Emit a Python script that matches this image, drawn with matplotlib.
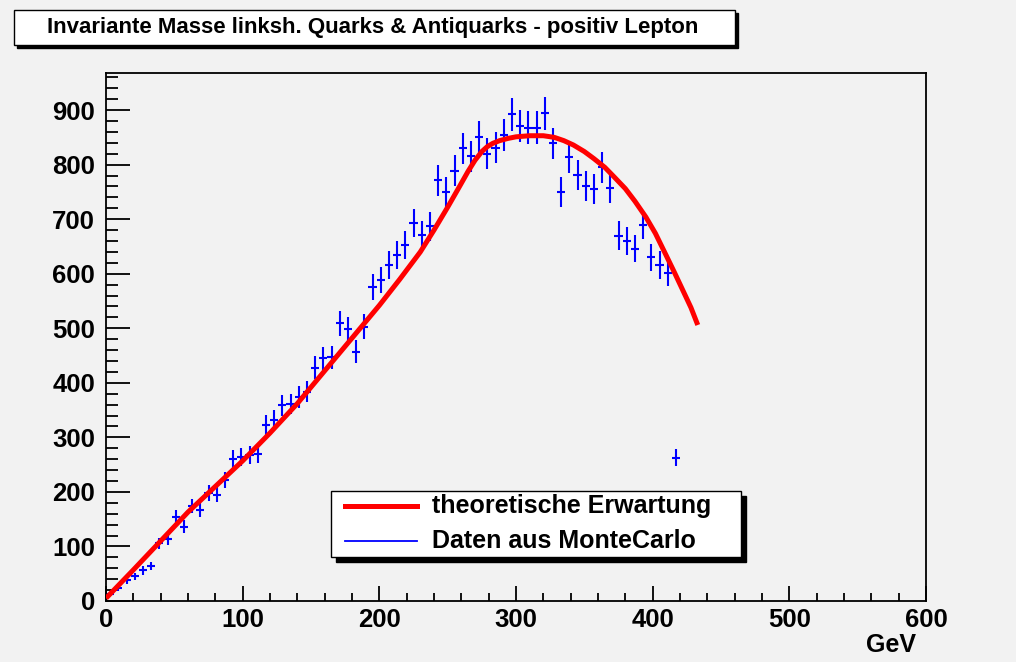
import numpy as np
import matplotlib
matplotlib.use("Agg")
import matplotlib.pyplot as plt
from matplotlib.patches import Rectangle
from matplotlib.lines import Line2D
from matplotlib.ticker import MultipleLocator

# Monte Carlo histogram, 6 GeV bins
bin_centers = np.arange(3, 420, 6)
counts = [12, 23, 38, 45, 56, 64, 106, 113, 154, 136,
          174, 166, 198, 195, 222, 260, 264, 268, 269, 323,
          332, 359, 361, 374, 384, 428, 445, 447, 509, 498,
          457, 503, 575, 588, 616, 634, 652, 693, 671, 687,
          771, 750, 789, 830, 815, 850, 820, 831, 855, 892,
          871, 868, 868, 894, 839, 750, 814, 781, 761, 756,
          795, 758, 670, 660, 646, 689, 630, 616, 602, 263]

# theoretical expectation
theo_x = [0, 20, 40, 60, 80, 100, 120, 140, 160, 180, 200, 215, 230, 240, 250,
          258, 265, 270, 275, 279, 283, 288, 294, 300, 310, 320, 328, 335, 342,
          350, 357, 365, 372, 380, 387, 395, 402, 410, 416, 422, 428, 433]
theo_y = [5, 57, 110, 163, 210, 257, 308, 362, 422, 482, 542, 590, 640, 680, 722,
          757, 788, 808, 824, 833, 839, 844, 848, 851, 853, 853, 850, 844, 836,
          824, 811, 795, 777, 756, 733, 704, 674, 633, 602, 570, 538, 506]

title = "Invariante Masse linksh. Quarks & Antiquarks - positiv Lepton"
legend_labels = ["theoretische Erwartung", "Daten aus MonteCarlo"]

plt.rcParams['font.family'] = ['Liberation Sans', 'DejaVu Sans']
plt.rcParams['font.weight'] = 'bold'

W, H = 1016, 662
bg = '#f2f2f2'
fig = plt.figure(figsize=(W / 100, H / 100), dpi=100, facecolor=bg)


def fx(px):
    return px / W


def fy(py):
    return 1 - py / H


ax = fig.add_axes([fx(106), fy(601), fx(926) - fx(106), fy(73) - fy(601)])
ax.set_facecolor(bg)

yerr = np.sqrt(counts)
ax.errorbar(bin_centers, counts, xerr=3, yerr=yerr, fmt='none',
            ecolor='#0000ff', elinewidth=1.5, capsize=0, zorder=2)
ax.plot(theo_x, theo_y, color='#ff0000', lw=3.6, solid_capstyle='butt',
        solid_joinstyle='round', zorder=3)

ax.set_xlim(0, 600)
ax.set_ylim(0, 968)
ax.xaxis.set_major_locator(MultipleLocator(100))
ax.xaxis.set_minor_locator(MultipleLocator(20))
ax.yaxis.set_major_locator(MultipleLocator(100))
ax.yaxis.set_minor_locator(MultipleLocator(20))
ax.tick_params(axis='y', which='major', direction='in', length=17, width=1.3,
               labelsize=18.5, pad=8)
ax.tick_params(axis='y', which='minor', direction='in', length=8.5, width=1.3)
ax.tick_params(axis='x', which='major', direction='in', length=11, width=1.3,
               labelsize=18.5, pad=5)
ax.tick_params(axis='x', which='minor', direction='in', length=5.8, width=1.3)
for s in ax.spines.values():
    s.set_linewidth(1.3)

fig.text(fx(916), fy(645), "GeV", ha='right', va='center', fontsize=18)

# title box with drop shadow
fig.add_artist(Rectangle((fx(17), fy(48)), fx(735) - fx(14), fy(10) - fy(45),
                         transform=fig.transFigure, facecolor='black',
                         edgecolor='black', lw=1))
fig.add_artist(Rectangle((fx(14), fy(45)), fx(735) - fx(14), fy(10) - fy(45),
                         transform=fig.transFigure, facecolor='white',
                         edgecolor='black', lw=1))
fig.text(fx(47), fy(28), title, ha='left', va='center', fontsize=16)

# legend box with drop shadow
fig.add_artist(Rectangle((fx(336), fy(562)), fx(741) - fx(331), fy(491) - fy(557),
                         transform=fig.transFigure, facecolor='black',
                         edgecolor='black', lw=1))
fig.add_artist(Rectangle((fx(331), fy(557)), fx(741) - fx(331), fy(491) - fy(557),
                         transform=fig.transFigure, facecolor='white',
                         edgecolor='black', lw=1))
fig.add_artist(Line2D([fx(345), fx(417)], [fy(506), fy(506)],
                      transform=fig.transFigure, color='#ff0000', lw=3.6))
fig.add_artist(Line2D([fx(345), fx(417)], [fy(541), fy(541)],
                      transform=fig.transFigure, color='#0000ff', lw=1.3))
fig.text(fx(432), fy(506), legend_labels[0], ha='left', va='center', fontsize=18)
fig.text(fx(432), fy(541), legend_labels[1], ha='left', va='center', fontsize=18)

fig.savefig("out.png", dpi=100, facecolor=bg)
